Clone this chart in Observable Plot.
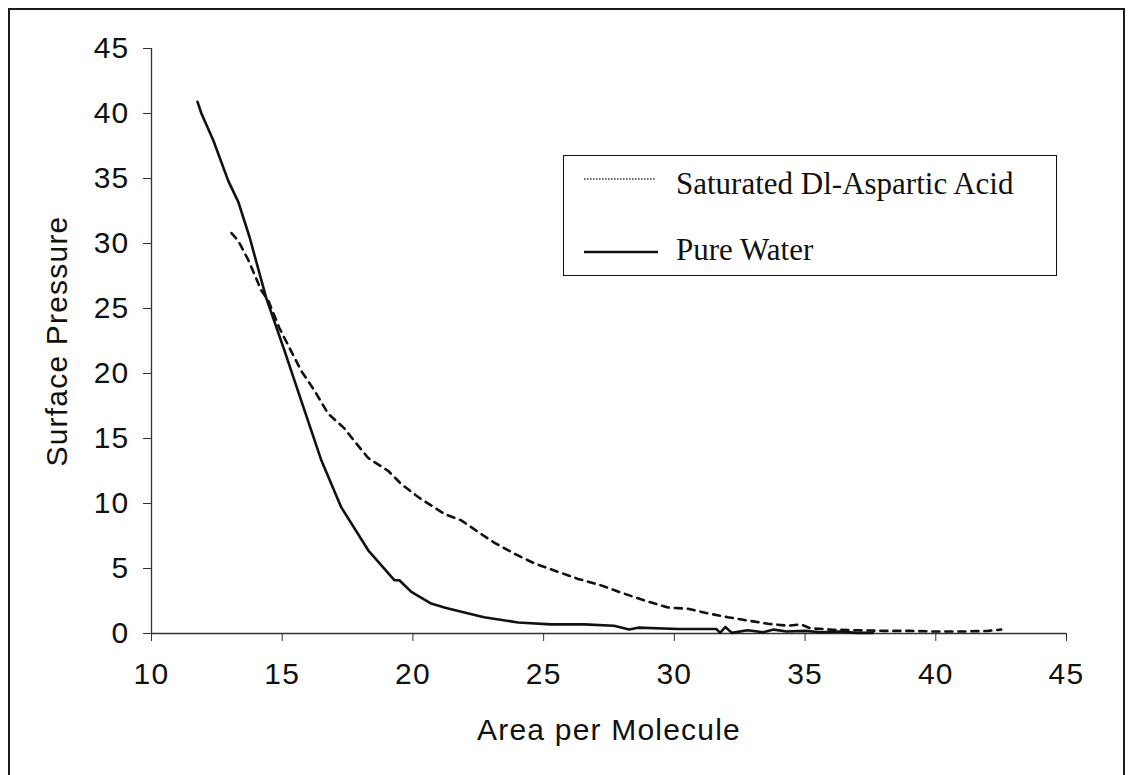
<!DOCTYPE html>
<html>
<head>
<meta charset="utf-8">
<script src="https://cdn.jsdelivr.net/npm/d3@7"></script>
<script src="https://cdn.jsdelivr.net/npm/@observablehq/plot@0.6"></script>
<style>
  body { margin: 0; background: #fff; }
  #wrap { position: relative; width: 1130px; height: 775px; overflow: hidden; background: #fff; }
  #chart { position: absolute; left: 0; top: 0; }
  #border { position: absolute; left: 8px; top: 8px; width: 1117px; height: 820px; border: 2px solid #1a1a1a; box-sizing: border-box; pointer-events: none; }
  #legend { position: absolute; left: 563px; top: 155px; width: 494px; height: 121px; border: 1.6px solid #111; box-sizing: border-box; background: #fff; }
  #legend svg { position: absolute; left: 0; top: 0; }
  #legend text { font-family: "Liberation Serif", "Times New Roman", serif; font-size: 31px; fill: #111; }
</style>
</head>
<body>
<div id="wrap">
  <div id="chart"></div>
  <div id="border"></div>
  <div id="legend"></div>
</div>
<script>
// ---- Data ----
const seriesNames = ["Saturated Dl-Aspartic Acid", "Pure Water"];

const waterArea = [11.76, 11.91, 12.37, 12.94, 13.32, 13.75, 14.39, 15.08, 15.73, 16.5, 17.26, 18.29, 19.29, 19.48, 19.94, 20.7, 21.2, 21.58, 22.72, 24.02, 25.28, 26.55, 27.69, 28.27, 28.61, 30.14, 31.6, 31.75, 31.95, 32.2, 32.8, 33.4, 33.8, 34.3, 35.0, 35.6, 36.3, 37.0, 37.6];
const waterPressure = [40.9, 40.0, 37.9, 34.8, 33.2, 30.5, 25.8, 21.8, 17.9, 13.3, 9.7, 6.4, 4.1, 4.1, 3.2, 2.3, 2.0, 1.8, 1.25, 0.85, 0.7, 0.7, 0.6, 0.3, 0.45, 0.35, 0.35, 0.05, 0.5, 0.05, 0.25, 0.1, 0.3, 0.15, 0.2, 0.1, 0.15, 0.05, 0.05];

const acidArea = [13.06, 13.32, 13.71, 14.2, 14.47, 14.89, 15.27, 15.73, 16.23, 16.76, 17.37, 17.76, 18.29, 19.06, 19.55, 20.2, 20.81, 21.2, 21.85, 22.5, 23.1, 23.87, 24.64, 25.4, 26.32, 27.2, 27.96, 28.84, 29.76, 30.52, 31.28, 32.05, 32.8, 33.58, 34.34, 34.84, 35.2, 36.0, 37.0, 38.0, 39.0, 40.0, 41.0, 42.0, 42.5];
const acidPressure = [30.8, 30.2, 28.7, 26.4, 25.6, 23.5, 22.0, 20.2, 18.7, 16.9, 15.8, 14.8, 13.5, 12.5, 11.5, 10.5, 9.7, 9.2, 8.7, 7.8, 7.0, 6.15, 5.4, 4.85, 4.2, 3.7, 3.15, 2.55, 2.0, 1.9, 1.55, 1.25, 1.0, 0.75, 0.6, 0.7, 0.4, 0.3, 0.25, 0.2, 0.2, 0.15, 0.15, 0.2, 0.3];

const xTicks = [10, 15, 20, 25, 30, 35, 40, 45];
const yTicks = [0, 5, 10, 15, 20, 25, 30, 35, 40, 45];

const water = waterArea.map((a, i) => ({area: a, pressure: waterPressure[i]}));
const acid = acidArea.map((a, i) => ({area: a, pressure: acidPressure[i]}));

const plot = Plot.plot({
  width: 1130,
  height: 775,
  marginLeft: 151,
  marginRight: 64,
  marginTop: 48,
  marginBottom: 142,
  style: {
    fontFamily: "'Liberation Sans', Arial, sans-serif",
    fontSize: "30px",
    color: "#111",
    background: "transparent",
    letterSpacing: "1.2px"
  },
  x: {domain: [10, 45]},
  y: {domain: [0, 45]},
  marks: [
    Plot.axisX({ticks: xTicks, tickSize: 8, tickPadding: 21, label: "Area per Molecule", labelAnchor: "center", labelOffset: 106, labelArrow: "none", stroke: "#333"}),
    Plot.axisY({ticks: yTicks, tickSize: 8, tickPadding: 14, label: "Surface Pressure", labelAnchor: "center", labelOffset: 106, labelArrow: "none", stroke: "#333"}),
    Plot.ruleX([10], {stroke: "#333", strokeWidth: 1.3}),
    Plot.ruleY([0], {stroke: "#333", strokeWidth: 1.3}),
    Plot.line(acid, {x: "area", y: "pressure", stroke: "#111", strokeWidth: 2.6, strokeDasharray: "7,6"}),
    Plot.line(water, {x: "area", y: "pressure", stroke: "#111", strokeWidth: 2.6})
  ]
});
document.getElementById("chart").appendChild(plot);

// ---- Legend ----
const leg = d3.select("#legend").append("svg").attr("width", 494).attr("height", 121);
leg.append("line").attr("x1", 20).attr("x2", 92).attr("y1", 23).attr("y2", 23)
  .attr("stroke", "#333").attr("stroke-width", 1.6).attr("stroke-dasharray", "1.5,1.5");
leg.append("text").attr("x", 112).attr("y", 38).text(seriesNames[0]);
leg.append("line").attr("x1", 20).attr("x2", 94).attr("y1", 96).attr("y2", 96)
  .attr("stroke", "#111").attr("stroke-width", 2.4);
leg.append("text").attr("x", 112).attr("y", 104).text(seriesNames[1]);
</script>
</body>
</html>
